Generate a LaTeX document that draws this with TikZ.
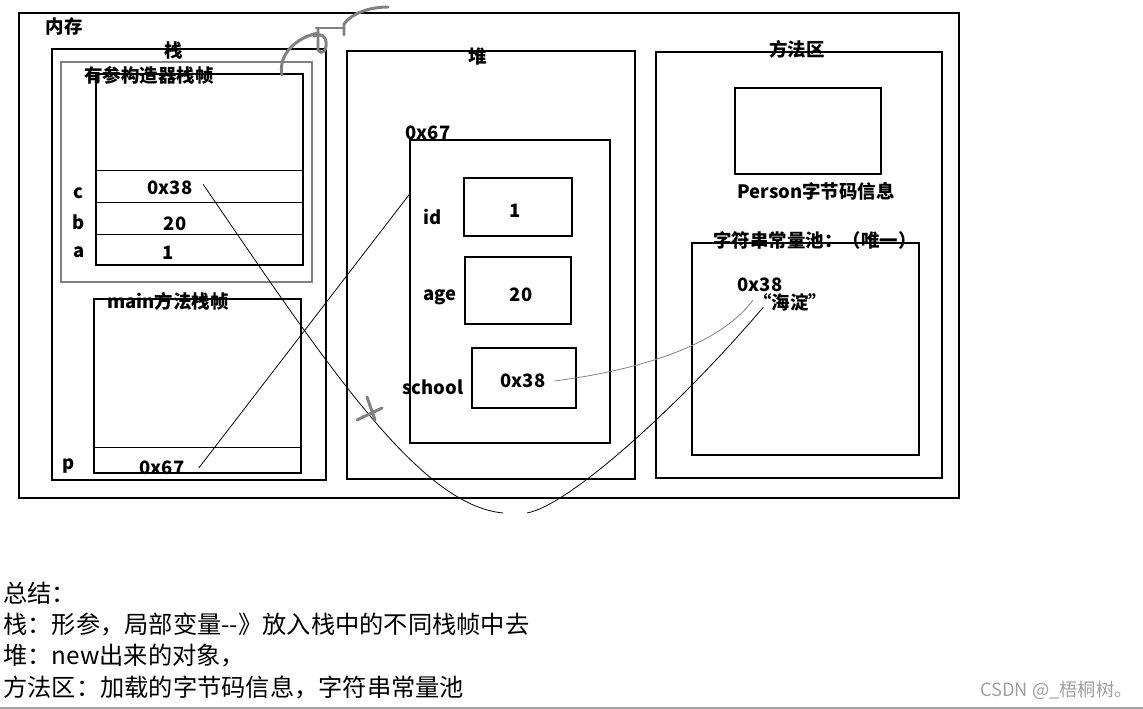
\documentclass[tikz,border=0pt]{standalone}
\usepackage{fontspec}
\setmainfont{Noto Sans CJK SC}
\usepackage{xcolor}
\usetikzlibrary{positioning,fit,calc}
\definecolor{stift}{HTML}{808080}
\definecolor{marke}{HTML}{A0A0A0}

\begin{document}
\begin{tikzpicture}[x=0.02cm,y=-0.02cm,
  box/.style={draw,line width=0.6pt,inner sep=0pt},
  lbl/.style={inner sep=0pt,font=\bfseries\fontsize{10.5}{12}\selectfont},
  note/.style={inner sep=0pt,anchor=west,font=\fontsize{13.8}{15}\selectfont},
  link/.style={line width=0.45pt},
  pencil/.style={draw=stift,line width=1.7pt,line cap=round,line join=round}]
\useasboundingbox (0,0) rectangle (1143,709);
\node[box,fit={(19,13) (959,498)}] (mem) {};
\node[lbl] (memlbl) at (64,27) {内存};
\node[box,fit={(52,49) (326,480)}] (stack) {};
\node[lbl] (stacklbl) at (174,51) {栈};
\node[box,draw=stift,fit={(61,62) (312,282)}] (ctorframe) {};
\node[box,fit={(96,74) (303,265)}] (ctorbox) {};
\node[lbl] (ctorlbl) at (149,75) {有参构造器栈帧};
\foreach \y in {171,203,235}
  \draw[line width=0.6pt] ($(ctorbox.north west)+(0,\y-74)$) -- ($(ctorbox.north east)+(0,\y-74)$);
\node[lbl] (clbl) at (78,193) {c};
\node[lbl] (blbl) at (79,222) {b};
\node[lbl] (albl) at (79,252) {a};
\node[lbl] (cval) at (170,188) {0x38};
\node[lbl] (bval) at (175,224) {20};
\node[lbl] (aval) at (168,253) {1};
\node[box,fit={(94,299) (301,473)}] (mainbox) {};
\node[lbl] (mainlbl) at (168,301) {main方法栈帧};
\draw[line width=0.6pt] ($(mainbox.south west)+(0,-26)$) -- ($(mainbox.south east)+(0,-26)$);
\node[lbl] (plbl) at (69,466) {p};
\node[lbl] (pval) at (162,468) {0x67};

\node[box,fit={(347,51) (635,479)}] (heap) {};
\node[lbl] (heaplbl) at (478,57) {堆};
\node[box,fit={(410,140) (610,443)}] (obj) {};
\node[lbl] (objaddr) at (428,133) {0x67};
\node[box,fit={(464,178) (572,236)}] (idbox) {};
\node[box,fit={(465,257) (571,324)}] (agebox) {};
\node[box,fit={(472,348) (576,408)}] (schoolbox) {};
\node[lbl] (idlbl) at (433,217) {id};
\node[lbl] (agelbl) at (440,297) {age};
\node[lbl] (schoollbl) at (433,387) {school};
\node[lbl] (idval) at (515,211) {1};
\node[lbl] (ageval) at (521,295) {20};
\node[lbl] (schoolval) at (523,381) {0x38};

\node[box,fit={(656,52) (942,478)}] (method) {};
\node[lbl] (methodlbl) at (797,49) {方法区};
\node[box,fit={(735,88) (881,174)}] (classinfo) {};
\node[lbl] (classlbl) at (816,191) {Person字节码信息};
\node[box,fit={(692,243) (919,455)}] (pool) {};
\node[lbl] (poollbl) at (815,240) {字符串常量池：（唯一）};
\node[lbl] (pooladdr) at (760,285) {0x38};
\node[lbl] (poolstr) at (790,302) {“海淀”};

\draw[link] ([xshift=8pt]pval.east) -- ($(obj.north west)!0.18!(obj.south west)$);
\coordinate (dipa) at (503,513);
\coordinate (dipb) at (527,513);
\draw[link] ([xshift=6pt,yshift=2pt]cval.east) .. controls (330,370) and (420,505) .. (dipa);
\draw[link] (dipb) .. controls (570,505) and (680,405) .. ([xshift=6pt,yshift=-3pt]poolstr.west);
\draw[link,draw=stift] ([xshift=5pt]schoolval.east) .. controls (640,370) and (720,345) .. ([yshift=1pt]poolstr.west);

\draw[pencil] (282,75) .. controls (278,55) and (295,38) .. (318,33);
\draw[pencil] (318,29) -- (318,50) .. controls (321,55) and (327,52) .. (326,42) .. controls (325,35) and (320,33) .. (314,36);
\draw[pencil] (316,28) -- (344,28);
\draw[pencil] (344,35) -- (344,24) .. controls (352,13) and (370,7) .. (388,7);
\draw[pencil] (357,420) -- (382,408);
\draw[pencil] (367,397) -- (375,420);

\node[note] (sumhead) at (3,593) {总结：};
\node[note] (sumstack) at (3,625) {栈：形参，局部变量-{}-》放入栈中的不同栈帧中去};
\node[note] (sumheap) at (3,656) {堆：new出来的对象，};
\node[note] (summethod) at (3,687) {方法区：加载的字节码信息，字符串常量池};
\node[inner sep=0pt,anchor=east,text=marke,font=\fontsize{10.4}{12}\selectfont] (mark) at (1133,690) {CSDN @\_梧桐树。};
\draw[marke,line width=0.6pt] (0,708) -- (1143,708);
\end{tikzpicture}
\end{document}
